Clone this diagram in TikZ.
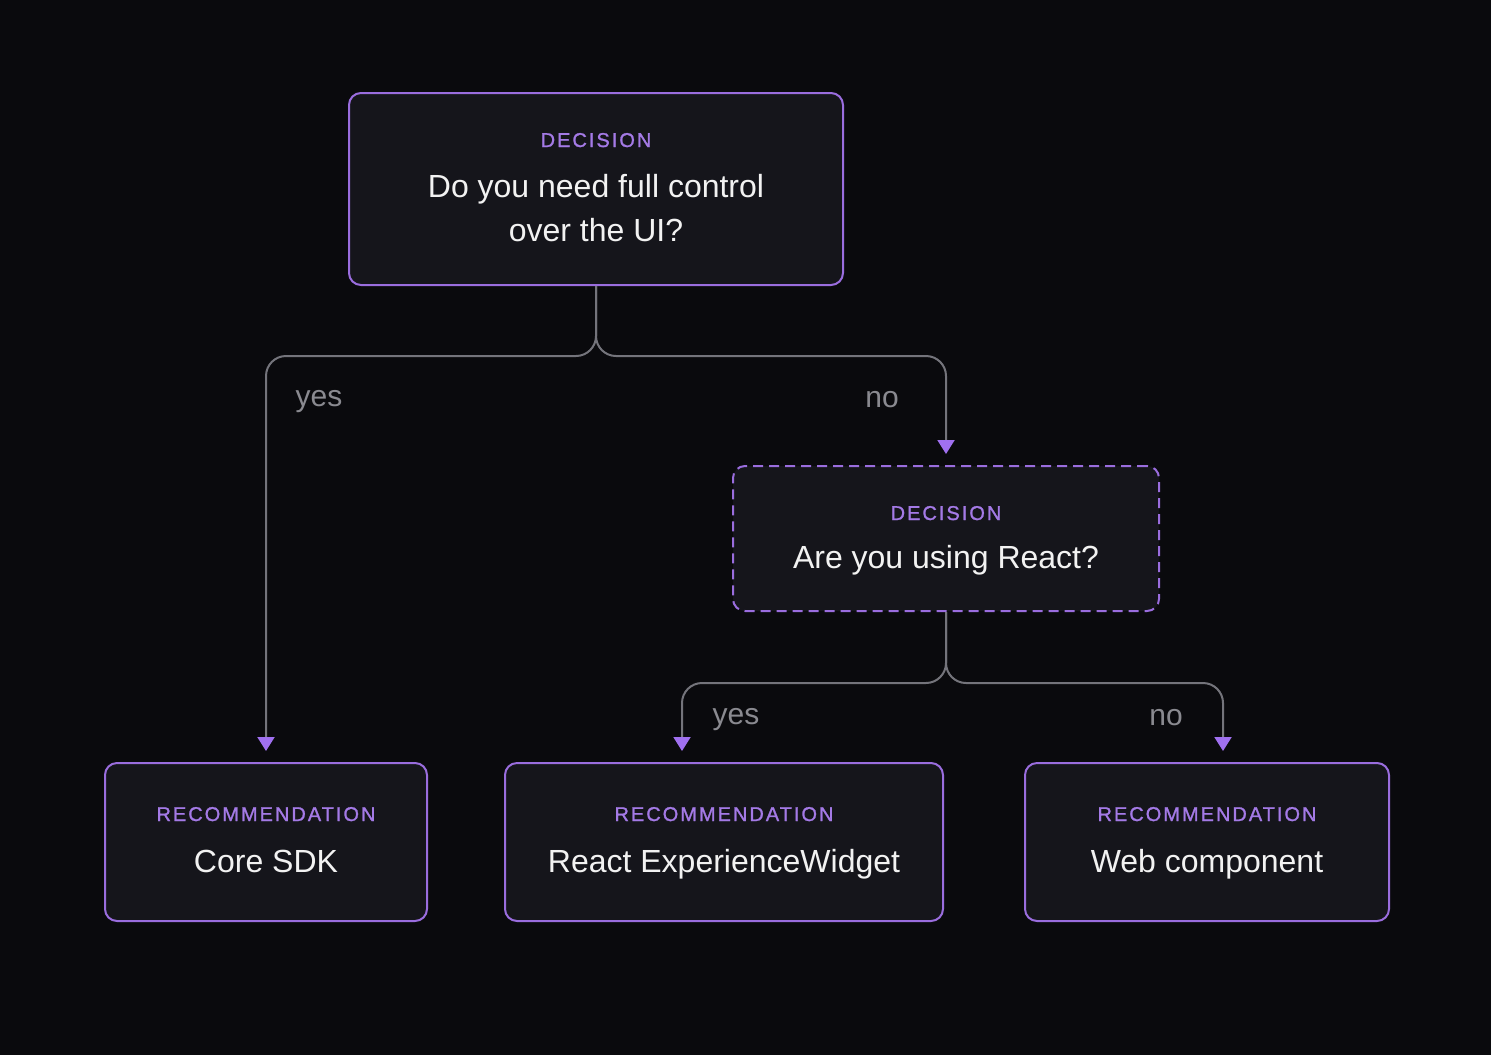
\documentclass[tikz,border=0pt]{standalone}
\usepackage{fontspec}
\setmainfont{Liberation Sans}
\newfontfamily\tagfont[LetterSpace=10,FakeBold=1.2]{Liberation Sans}
\usetikzlibrary{arrows.meta}

\definecolor{bgdark}{HTML}{0A0A0D}
\definecolor{boxfill}{HTML}{15151B}
\definecolor{edgepurple}{HTML}{9A6DDE}
\definecolor{tagpurple}{HTML}{A47AE6}
\definecolor{tippurple}{HTML}{A070F0}
\definecolor{linkgray}{HTML}{74747B}
\definecolor{labelgray}{HTML}{8A8A90}

\tikzset{
  box/.style={draw=edgepurple, fill=boxfill, line width=1pt, rounded corners=6pt, inner sep=0pt},
  dashbox/.style={box, dash pattern=on 5pt off 3pt},
  tag/.style={text=tagpurple, font=\tagfont\fontsize{10}{12}\selectfont, anchor=base},
  title/.style={text=white!95!black, font=\fontsize{16}{22}\selectfont, align=center, anchor=base},
  answer/.style={text=labelgray, font=\fontsize{15}{18}\selectfont, anchor=base},
  link/.style={draw=linkgray, line width=1pt, rounded corners=10pt,
    -{Triangle[width=8.5pt,length=7pt,color=tippurple]}, shorten >=5.5pt},
}

\begin{document}
\begin{tikzpicture}[x=0.5pt,y=-0.5pt]
\fill[bgdark] (0,0) rectangle (1491,1055);

% boxes
\node[box, minimum width=247pt, minimum height=96pt] (ui) at (596,189) {};
\node[dashbox, minimum width=213pt, minimum height=72.5pt] (react) at (946,538.5) {};
\node[box, minimum width=161pt, minimum height=79pt] (core) at (266,842) {};
\node[box, minimum width=219pt, minimum height=79pt] (widget) at (724,842) {};
\node[box, minimum width=182pt, minimum height=79pt] (web) at (1207,842) {};

% texts
\node[tag] at (596,147) {DECISION};
\node[title] at (596,241) {Do you need full control\\over the UI?};
\node[tag] at (946,520) {DECISION};
\node[title] at (946,568) {Are you using React?};
\node[tag] at (266,821) {RECOMMENDATION};
\node[title] at (266,872) {Core SDK};
\node[tag] at (724,821) {RECOMMENDATION};
\node[title] at (724,872) {React ExperienceWidget};
\node[tag] at (1207,821) {RECOMMENDATION};
\node[title] at (1207,872) {Web component};

% connectors
\coordinate (uifork) at (596,356);
\coordinate (reactfork) at (946,683);
\draw[link] (ui.south) -- (uifork) -| (core.north);
\draw[link] (ui.south) -- (uifork) -| (react.north);
\draw[link] (react.south) -- (reactfork) -| ([xshift=-21pt]widget.north);
\draw[link] (react.south) -- (reactfork) -| ([xshift=8pt]web.north);

\node[answer] at (319,406) {yes};
\node[answer] at (882,407) {no};
\node[answer] at (736,724) {yes};
\node[answer] at (1166,725) {no};
\end{tikzpicture}
\end{document}
